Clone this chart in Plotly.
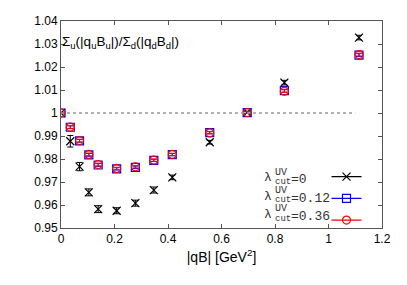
import plotly.graph_objects as go

qB = [0, 0.0347, 0.0694, 0.104, 0.139, 0.208, 0.278, 0.347, 0.416, 0.556, 0.696, 0.835, 1.114]
ratio_0 = [1.0, 0.9877, 0.9767, 0.9655, 0.9582, 0.9575, 0.9608, 0.9665, 0.9720, 0.9873, 1.0003, 1.0132, 1.0328]
err_0 = [0.0003, 0.0025, 0.0018, 0.0015, 0.0015, 0.0013, 0.0013, 0.0013, 0.0010, 0.0008, 0.0005, 0.0010, 0.0010]
ratio_012 = [1.0, 0.9938, 0.9879, 0.9818, 0.9774, 0.9757, 0.9764, 0.9794, 0.9819, 0.9915, 1.0002, 1.0097, 1.0252]
err_012 = [0.0002, 0.0006, 0.0006, 0.0006, 0.0006, 0.0005, 0.0005, 0.0005, 0.0005, 0.0005, 0.0004, 0.0006, 0.0006]
ratio_036 = [1.0, 0.9939, 0.9880, 0.9820, 0.9776, 0.9759, 0.9766, 0.9795, 0.9820, 0.9914, 1.0002, 1.0095, 1.0254]
err_036 = [0.0002, 0.0006, 0.0006, 0.0006, 0.0006, 0.0005, 0.0005, 0.0005, 0.0005, 0.0005, 0.0004, 0.0006, 0.0006]

labels = ["=0", "=0.12", "=0.36"]
colors = ["black", "blue", "red"]
symbols = ["x-thin-open", "square-open", "circle-open"]

# plot area in page pixels: x 61..382, y 14..228
PX0, PX1, PY0, PY1 = 61, 382, 14, 228
def px(x):
    return (x - PX0) / (PX1 - PX0)
def py(y):
    return (PY1 - y) / (PY1 - PY0)

fig = go.Figure()

fig.add_shape(type="line", x0=0, x1=1.1, y0=1, y1=1, xref="x", yref="y",
              line=dict(color="#999999", width=1.5, dash="dot"))

series = [(ratio_0, err_0), (ratio_012, err_012), (ratio_036, err_036)]
for (y, e), c, s in zip(series, colors, symbols):
    fig.add_trace(go.Scatter(
        x=qB, y=y, mode="markers", showlegend=False,
        marker=dict(symbol=s, size=8, color=c, line=dict(color=c, width=1.2)),
        error_y=dict(type="data", array=e, visible=True, color=c, thickness=1, width=3),
    ))

for c, s in zip(colors, symbols):
    fig.add_trace(go.Scatter(
        x=[None], y=[None], mode="lines+markers", name="", showlegend=True,
        line=dict(color=c, width=1.2),
        marker=dict(symbol=s, size=8, color=c, line=dict(color=c, width=1.2)),
    ))

annotations = []
rows_y = [178.3, 197.0, 215.7]
mono = "Liberation Mono"
tc = "#333333"
for lab, ry in zip(labels, rows_y):
    annotations.append(dict(text="λ", x=px(273.5), y=py(ry - 2), xref="paper", yref="paper",
                            xanchor="right", yanchor="middle", showarrow=False,
                            font=dict(family=mono, size=13, color=tc)))
    annotations.append(dict(text="cut", x=px(272.5), y=py(ry + 2.5), xref="paper", yref="paper",
                            xanchor="left", yanchor="middle", showarrow=False,
                            font=dict(family=mono, size=9, color=tc)))
    annotations.append(dict(text="UV", x=px(272.5), y=py(ry - 7.5), xref="paper", yref="paper",
                            xanchor="left", yanchor="middle", showarrow=False,
                            font=dict(family=mono, size=10, color=tc)))
    annotations.append(dict(text=lab, x=px(288.5), y=py(ry), xref="paper", yref="paper",
                            xanchor="left", yanchor="middle", showarrow=False,
                            font=dict(family=mono, size=13, color=tc)))

annotations.append(dict(
    text="Σ<sub>u</sub>(|q<sub>u</sub>B<sub>u</sub>|)/Σ<sub>d</sub>(|q<sub>d</sub>B<sub>d</sub>|)",
    x=px(60), y=py(36), xref="paper", yref="paper", xanchor="left", yanchor="middle",
    showarrow=False, font=dict(family="Liberation Sans", size=13.5, color="black")))

axis_common = dict(showline=True, mirror="ticks", linecolor="#555555", linewidth=1,
                   ticks="inside", ticklen=4, tickcolor="#555555", showgrid=False,
                   zeroline=False, ticklabeloverflow="allow",
                   tickfont=dict(family="Liberation Sans", size=12, color="black"))

# the page body has an 8px margin, so the figure is sized to fit inside 407x285
fig.update_layout(
    width=399, height=277,
    margin=dict(l=53, r=25, t=6, b=57),
    plot_bgcolor="white", paper_bgcolor="white",
    xaxis=dict(range=[0, 1.2], dtick=0.2, tick0=0,
               title=dict(text="|qB| [GeV<sup>2</sup>]",
                          font=dict(family="Liberation Sans", size=14, color="black"), standoff=6),
               **axis_common),
    yaxis=dict(range=[0.95, 1.04], dtick=0.01, tick0=0.95, **axis_common),
    legend=dict(x=px(326.5), y=py(158.5), xanchor="left", yanchor="top",
                bgcolor="rgba(0,0,0,0)", borderwidth=0, tracegroupgap=0,
                font=dict(size=14.4), itemwidth=30),
    annotations=annotations,
)

fig.write_html("out.html")
